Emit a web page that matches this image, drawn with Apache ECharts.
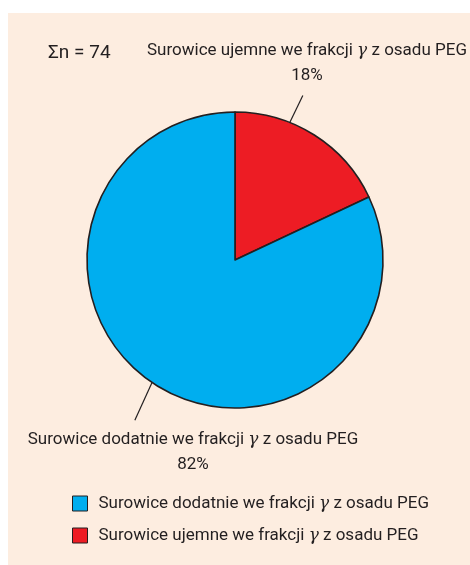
<!DOCTYPE html>
<html>
<head>
<meta charset="utf-8">
<script src="https://cdn.jsdelivr.net/npm/echarts@6/dist/echarts.min.js"></script>
<style>
  html, body { margin: 0; padding: 0; background: #fff; }
  #chart { width: 470px; height: 565px; }
</style>
</head>
<body>
<div id="chart"></div>
<script>
// data
var names = [
  "Surowice ujemne we frakcji {g|γ} z osadu PEG",
  "Surowice dodatnie we frakcji {g|γ} z osadu PEG"
];
var keys = ["ujemne", "dodatnie"];
var values = [18, 82];
var colors = ["#ed1c24", "#00aeef"];
var total = "Σn = 74";

var font = "'Roboto', sans-serif";
var ink = "#231f20";
var fs = 17;
var cx = 235, cy = 260, R = 148;

// label placement (center of text) and guide line [angle, r] start / end
var labelPos = [[307, 63], [193, 452]];
var guide = [[[20.5, 114], [22.4, 178]], [[214.3, 145], [212, 189]]];

var rich = {
  g: { fontFamily: "'DejaVu Serif', serif", fontStyle: "italic", fontSize: fs, color: ink }
};

function polar(p) {
  var a = p[0] * Math.PI / 180;
  return [cx + p[1] * Math.sin(a), cy - p[1] * Math.cos(a)];
}

var chart = echarts.init(document.getElementById("chart"));
chart.setOption({
  backgroundColor: "#fff",
  animation: false,
  graphic: [{
    type: "rect", z: -10, silent: true,
    shape: { x: 8, y: 13, width: 462, height: 552 },
    style: { fill: "#fdede0" }
  }],
  title: {
    text: total, left: 43, top: 39,
    textStyle: { fontFamily: font, fontSize: 19, fontWeight: "normal", color: ink }
  },
  legend: {
    orient: "vertical", left: 67, top: 490,
    itemWidth: 15, itemHeight: 15, itemGap: 15,
    icon: "rect",
    data: [keys[1], keys[0]],
    itemStyle: { borderColor: ink, borderWidth: 1 },
    formatter: function (k) { return names[keys.indexOf(k)]; },
    textStyle: { fontFamily: font, fontSize: fs, color: ink, padding: [0, 0, 0, 6], rich: rich }
  },
  series: [{
    type: "pie",
    center: [cx, cy],
    radius: [0, R],
    startAngle: 90,
    clockwise: true,
    data: values.map(function (v, i) {
      return { name: keys[i], value: v, itemStyle: { color: colors[i] } };
    }),
    itemStyle: { borderColor: ink, borderWidth: 1.6 },
    label: {
      show: true,
      position: "outside",
      overflow: "none",
      formatter: function (p) { return names[p.dataIndex] + "\n" + p.value + "%"; },
      fontFamily: font, fontSize: fs, color: ink, lineHeight: 25,
      align: "center",
      rich: rich
    },
    labelLine: { show: true, lineStyle: { color: ink, width: 1.2 } },
    labelLayout: function (p) {
      var g = guide[p.dataIndex];
      var e = polar(g[1]);
      return {
        x: labelPos[p.dataIndex][0],
        y: labelPos[p.dataIndex][1],
        align: "center",
        verticalAlign: "middle",
        labelLinePoints: [polar(g[0]), e, e]
      };
    },
    emphasis: { disabled: true }
  }]
});
</script>
</body>
</html>
